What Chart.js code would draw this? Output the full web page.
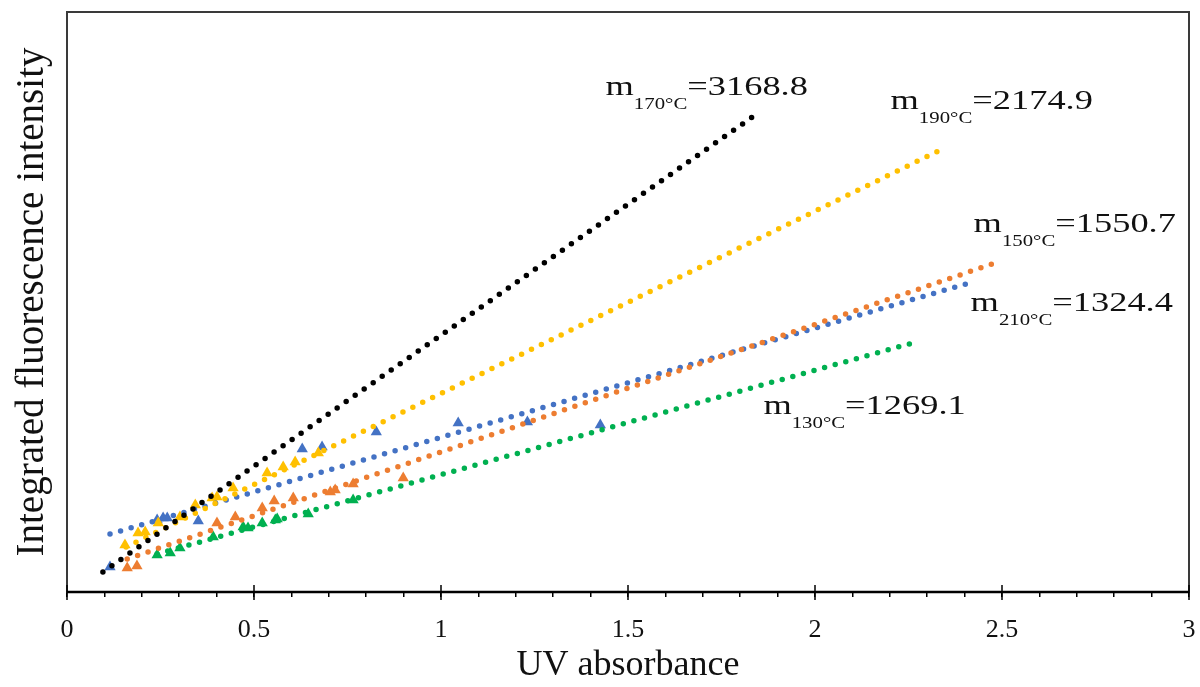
<!DOCTYPE html>
<html>
<head>
  <title>UV absorbance vs fluorescence</title>
  <script src="https://cdn.jsdelivr.net/npm/chart.js"></script>
  <style>
    body { margin: 0; background: #fff; }
  </style>
</head>
<body>
  <canvas id="fluoChart" width="1200" height="687"></canvas>

  <script>
    // measured points (triangles), x = UV absorbance, y = integrated intensity
    const uv130 = [0.241, 0.276, 0.302, 0.391, 0.471, 0.484, 0.522, 0.557, 0.562, 0.645, 0.765];
    const fl130 = [448, 472, 532, 666, 787, 774, 835, 871, 883, 944, 1113];

    const uv150 = [0.161, 0.187, 0.401, 0.450, 0.522, 0.554, 0.605, 0.704, 0.717, 0.765, 0.899];
    const fl150 = [290, 315, 835, 908, 1016, 1101, 1137, 1210, 1234, 1307, 1379];

    const uv190 = [0.155, 0.190, 0.209, 0.244, 0.302, 0.343, 0.388, 0.401, 0.444, 0.535, 0.578, 0.610, 0.672];
    const fl190 = [569, 714, 726, 835, 908, 1053, 1137, 1150, 1258, 1440, 1513, 1573, 1682];

    const uv210 = [0.115, 0.241, 0.257, 0.268, 0.351, 0.629, 0.682, 0.827, 1.046, 1.231, 1.426];
    const fl210 = [303, 871, 895, 895, 859, 1730, 1755, 1936, 2045, 2057, 2021];

    // linear fits, start and end of each dotted line
    const fit130 = [[0.241, 460], [2.261, 3013]];
    const fit150 = [[0.161, 399], [2.497, 4005]];
    const fit170 = [[0.096, 242], [1.833, 5748]];
    const fit190 = [[0.158, 545], [2.352, 5385]];
    const fit210 = [[0.115, 702], [2.422, 3751]];

    // slope labels
    const slopeTemps = ['170°C', '190°C', '150°C', '210°C', '130°C'];
    const slopeValues = ['3168.8', '2174.9', '1550.7', '1324.4', '1269.1'];
    const slopeAtX = [1.440, 2.202, 2.424, 2.416, 1.862];
    const slopeAtY = [6014, 5844, 4356, 3400, 2154];

    const xTicks = [0, 0.5, 1, 1.5, 2, 2.5, 3];

    const colors = {
      c130: '#00b050',
      c150: '#ed7d31',
      c170: '#000000',
      c190: '#ffc000',
      c210: '#4472c4'
    };

    const serif = 'Liberation Serif, Times New Roman, serif';

    const pts = (xs, ys) => xs.map((x, i) => ({ x: x, y: ys[i] }));
    const fitPts = f => f.map(p => ({ x: p[0], y: p[1] }));

    function fitLine(f, color) {
      return {
        data: fitPts(f),
        showLine: true,
        borderColor: color,
        borderWidth: 5.5,
        borderDash: [0, 11],
        borderCapStyle: 'round',
        pointRadius: 0,
        order: 0
      };
    }

    function marks(xs, ys, color) {
      return {
        data: pts(xs, ys),
        showLine: false,
        pointStyle: 'triangle',
        pointRadius: 6.5,
        backgroundColor: color,
        borderColor: color,
        borderWidth: 0,
        order: 1
      };
    }

    // box round the plot, and the upper half of the major ticks
    const frame = {
      id: 'frame',
      afterDraw(chart) {
        const { ctx, chartArea: a, scales } = chart;
        ctx.save();
        ctx.strokeStyle = '#3a3a3a';
        ctx.lineWidth = 2;
        ctx.strokeRect(a.left, a.top, a.right - a.left, a.bottom - a.top);
        ctx.strokeStyle = '#000';
        ctx.lineWidth = 2.5;
        ctx.beginPath();
        ctx.moveTo(a.left, a.bottom);
        ctx.lineTo(a.right, a.bottom);
        ctx.stroke();
        ctx.lineWidth = 1.5;
        xTicks.forEach(v => {
          const px = scales.x.getPixelForValue(v);
          ctx.beginPath();
          ctx.moveTo(px, a.bottom - 7);
          ctx.lineTo(px, a.bottom + 8);
          ctx.stroke();
        });
        ctx.restore();
      }
    };

    const slopeLabels = {
      id: 'slopeLabels',
      afterDatasetsDraw(chart) {
        const { ctx, scales } = chart;
        ctx.save();
        ctx.fillStyle = '#111';
        ctx.textBaseline = 'alphabetic';
        slopeTemps.forEach((t, i) => {
          const px = scales.x.getPixelForValue(slopeAtX[i]);
          const py = scales.y.getPixelForValue(slopeAtY[i]);
          ctx.save();
          ctx.translate(px, py);
          ctx.scale(1.3, 1);
          ctx.font = '28px ' + serif;
          ctx.fillText('m', 0, 0);
          let w = ctx.measureText('m').width;
          ctx.font = '16px ' + serif;
          ctx.fillText(t, w, 14);
          w += ctx.measureText(t).width;
          ctx.font = '28px ' + serif;
          ctx.fillText('=' + slopeValues[i], w, 0);
          ctx.restore();
        });
        ctx.restore();
      }
    };

    new Chart(document.getElementById('fluoChart'), {
      type: 'scatter',
      data: {
        datasets: [
          marks(uv130, fl130, colors.c130),
          marks(uv150, fl150, colors.c150),
          marks(uv190, fl190, colors.c190),
          marks(uv210, fl210, colors.c210),
          fitLine(fit130, colors.c130),
          fitLine(fit150, colors.c150),
          fitLine(fit170, colors.c170),
          fitLine(fit190, colors.c190),
          fitLine(fit210, colors.c210)
        ]
      },
      options: {
        responsive: false,
        animation: false,
        layout: { padding: { top: 12, right: 11, left: 9, bottom: 0 } },
        plugins: {
          legend: { display: false },
          tooltip: { enabled: false }
        },
        scales: {
          x: {
            type: 'linear',
            min: 0,
            max: 3,
            afterFit: s => {
              s.height = 95;
              s.paddingLeft = 0;
              s.paddingRight = 0;
            },
            grid: {
              display: true,
              drawOnChartArea: false,
              drawTicks: true,
              tickLength: 5,
              color: '#000',
              lineWidth: 1.5
            },
            border: { display: true, color: '#000', width: 2 },
            ticks: {
              stepSize: 0.1,
              autoSkip: false,
              maxRotation: 0,
              padding: 18,
              color: '#111',
              font: { family: serif, size: 26 },
              callback: v => {
                const r = Math.round(v * 2) / 2;
                return Math.abs(v - r) < 1e-6 ? String(r) : '';
              }
            },
            title: {
              display: true,
              text: 'UV absorbance',
              color: '#111',
              font: { family: serif, size: 36 },
              padding: { top: 0, bottom: 0 }
            }
          },
          y: {
            type: 'linear',
            min: 0,
            max: 7018,
            afterFit: s => {
              s.width = 58;
              s.paddingTop = 0;
              s.paddingBottom = 0;
            },
            grid: { display: false },
            border: { display: true, color: '#000', width: 2 },
            ticks: { display: false },
            title: {
              display: true,
              text: 'Integrated fluorescence intensity',
              color: '#111',
              font: { family: serif, size: 39 },
              padding: 0
            }
          }
        }
      },
      plugins: [frame, slopeLabels]
    });
  </script>
</body>
</html>
